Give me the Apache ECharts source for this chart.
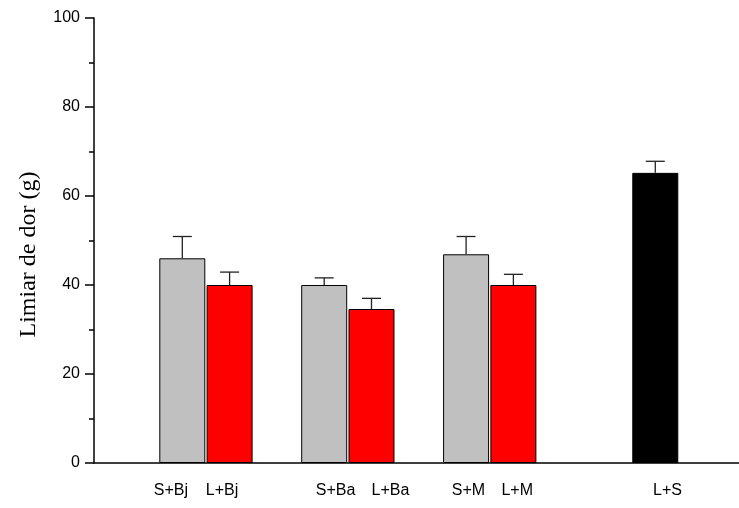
<!DOCTYPE html>
<html>
<head>
<meta charset="utf-8">
<script src="https://cdn.jsdelivr.net/npm/echarts@6/dist/echarts.min.js"></script>
<style>
  html, body { margin: 0; padding: 0; background: #fff; }
  #chart { width: 739px; height: 508px; }
</style>
</head>
<body>
<div id="chart"></div>
<script>
// Group labels, in drawing order
const groups = ["S+Bj", "L+Bj", "S+Ba", "L+Ba", "S+M", "L+M", "L+S"];
// Slot of each bar along the x axis
const barSlots = [0, 1, 3, 4, 6, 7, 10];
// Mean pain threshold (g) and its standard error
const means = [46.0, 40.0, 40.0, 34.6, 46.9, 40.0, 65.2];
const errors = [4.9, 2.9, 1.6, 2.4, 4.0, 2.4, 2.6];
// Treatment kind of each bar: sham, lesion, lesion + saline
const kinds = ["sham", "lesion", "sham", "lesion", "sham", "lesion", "saline"];
// Where each group label sits on the x axis
const labelSlots = [-0.24, 0.84, 3.24, 4.40, 6.05, 7.08, 10.26];
// y-axis ticks
const yTicks = [0, 20, 40, 60, 80, 100];

const fills = { sham: "#c0c0c0", lesion: "#ff0000", saline: "#000000" };

const barData = means.map((v, i) => ({
  value: [barSlots[i], v],
  itemStyle: { color: fills[kinds[i]] }
}));
const errData = means.map((v, i) => [barSlots[i], v, errors[i]]);

const chart = echarts.init(document.getElementById("chart"), null, { renderer: "canvas" });

chart.setOption({
  animation: false,
  backgroundColor: "#ffffff",
  grid: { left: 94, right: 0, top: 18, bottom: 45, containLabel: false },
  xAxis: {
    type: "value",
    min: -1.867,
    max: 11.77,
    splitLine: { show: false },
    axisTick: { show: false },
    axisLine: { show: true, onZero: false, lineStyle: { color: "#000", width: 1.5 } },
    axisLabel: {
      customValues: labelSlots,
      margin: 20,
      color: "#000",
      fontFamily: "Liberation Sans, Arial, sans-serif",
      fontSize: 16,
      formatter: function (val) {
        let best = 0;
        for (let i = 1; i < labelSlots.length; i++) {
          if (Math.abs(labelSlots[i] - val) < Math.abs(labelSlots[best] - val)) best = i;
        }
        return groups[best];
      }
    }
  },
  yAxis: {
    type: "value",
    min: yTicks[0],
    max: yTicks[yTicks.length - 1],
    interval: yTicks[1] - yTicks[0],
    name: "Limiar de dor (g)",
    nameLocation: "middle",
    nameGap: 53,
    nameTextStyle: {
      color: "#000",
      fontFamily: "Liberation Serif, Times New Roman, serif",
      fontSize: 24,
      padding: [0, 28, 0, 0]
    },
    splitLine: { show: false },
    axisLine: { show: true, onZero: false, lineStyle: { color: "#000", width: 1.5 } },
    axisTick: { show: true, inside: false, length: 9, lineStyle: { color: "#000", width: 1.5 } },
    minorTick: { show: true, splitNumber: 2, length: 5, lineStyle: { color: "#000", width: 1.5 } },
    axisLabel: {
      margin: 14,
      color: "#000",
      fontFamily: "Liberation Sans, Arial, sans-serif",
      fontSize: 16
    }
  },
  series: [
    {
      type: "bar",
      data: barData,
      barWidth: 46,
      itemStyle: { borderColor: "#000", borderWidth: 1 },
      z: 2
    },
    {
      type: "custom",
      data: errData,
      z: 3,
      renderItem: function (params, api) {
        const x = api.value(0);
        const mean = api.value(1);
        const err = api.value(2);
        const base = api.coord([x, mean]);
        const tip = api.coord([x, mean + err]);
        const half = 9.5;
        const style = { stroke: "#222", lineWidth: 1.3 };
        return {
          type: "group",
          children: [
            { type: "line", shape: { x1: base[0], y1: base[1], x2: tip[0], y2: tip[1] }, style: style },
            { type: "line", shape: { x1: tip[0] - half, y1: tip[1], x2: tip[0] + half, y2: tip[1] }, style: style }
          ]
        };
      }
    }
  ]
});
</script>
</body>
</html>
